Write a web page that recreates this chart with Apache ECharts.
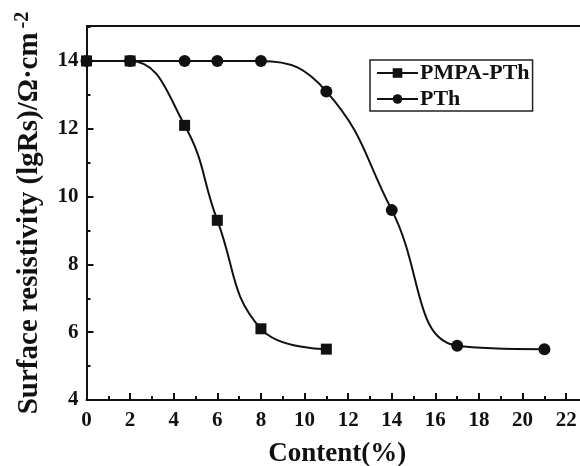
<!DOCTYPE html>
<html><head><meta charset="utf-8">
<script src="https://cdn.jsdelivr.net/npm/echarts@6/dist/echarts.min.js"></script>
<style>html,body{margin:0;padding:0;background:#fff}#c{width:580px;height:466px}</style>
</head><body><div id="c"></div>
<script>
const pmpaX = [0, 2, 4.5, 6, 8, 11];
const pmpaY = [14, 14, 12.1, 9.3, 6.1, 5.5];
const pthX = [0, 2, 4.5, 6, 8, 11, 14, 17, 21];
const pthY = [14, 14, 14, 14, 14, 13.1, 9.6, 5.6, 5.5];
const seriesNames = ['PMPA-PTh', 'PTh'];
const xTitle = 'Content(%)';

const font = '"Liberation Serif","Times New Roman",serif';
const chart = echarts.init(document.getElementById('c'));
const zip = (xs, ys) => xs.map((x, i) => [x, ys[i]]);
chart.setOption({
  animation: false,
  grid: {left: 86.5, top: 26, right: -8, bottom: 66, containLabel: false, outerBoundsMode: 'none'},
  legend: {
    left: 370, top: 60, orient: 'vertical', borderColor: '#222', borderWidth: 1.5,
    padding: [2, 3, 1, 6], itemGap: 4, itemWidth: 41, itemHeight: 12,
    textStyle: {fontFamily: font, fontWeight: 'bold', fontSize: 22, color: '#111', padding: [0, 0, 0, -3]},
    data: seriesNames
  },
  xAxis: {
    type: 'value', min: 0, max: 23, interval: 2,
    name: xTitle, nameLocation: 'middle', nameGap: 41,
    nameTextStyle: {fontFamily: font, fontWeight: 'bold', fontSize: 27, color: '#111'},
    axisLine: {onZero: false, lineStyle: {color: '#111', width: 2}},
    axisTick: {inside: true, length: 7, lineStyle: {color: '#111', width: 2}},
    minorTick: {show: true, splitNumber: 2, length: 4, lineStyle: {color: '#111', width: 2}},
    axisLabel: {fontFamily: font, fontWeight: 'bold', fontSize: 21, color: '#111', margin: 10,
      formatter: v => v > 22 ? '' : v},
    splitLine: {show: false}
  },
  yAxis: {
    type: 'value', min: 4, max: 15.03, interval: 2,
    name: 'Surface resistivity (lgRs)/Ω·cm{sup|-2}', nameLocation: 'middle', nameGap: 40,
    nameTextStyle: {fontFamily: font, fontWeight: 'bold', fontSize: 29, color: '#111', padding: [0, 0, 0, 0],
      rich: {sup: {fontFamily: font, fontWeight: 'bold', fontSize: 20, color: '#111', verticalAlign: 'top', padding: [0, 0, 14, 4]}}},
    axisLine: {lineStyle: {color: '#111', width: 2}},
    axisTick: {inside: true, length: 7, lineStyle: {color: '#111', width: 2}},
    minorTick: {show: true, splitNumber: 2, length: 4, lineStyle: {color: '#111', width: 2}},
    axisLabel: {fontFamily: font, fontWeight: 'bold', fontSize: 21, color: '#111', margin: 8,
      formatter: v => v > 14.5 ? '' : v},
    splitLine: {show: false}
  },
  series: [
    {name: seriesNames[0], type: 'line', data: zip(pmpaX, pmpaY), smooth: 0.45,
     symbol: 'rect', symbolSize: 11, itemStyle: {color: '#111'}, lineStyle: {color: '#111', width: 2}},
    {name: seriesNames[1], type: 'line', data: zip(pthX, pthY), smooth: 0.45,
     symbol: 'circle', symbolSize: 12, itemStyle: {color: '#111'}, lineStyle: {color: '#111', width: 2}}
  ],
  graphic: [{type: 'line', shape: {x1: 86.5, y1: 26, x2: 580, y2: 26}, style: {stroke: '#111', lineWidth: 2}}]
});
</script></body></html>
